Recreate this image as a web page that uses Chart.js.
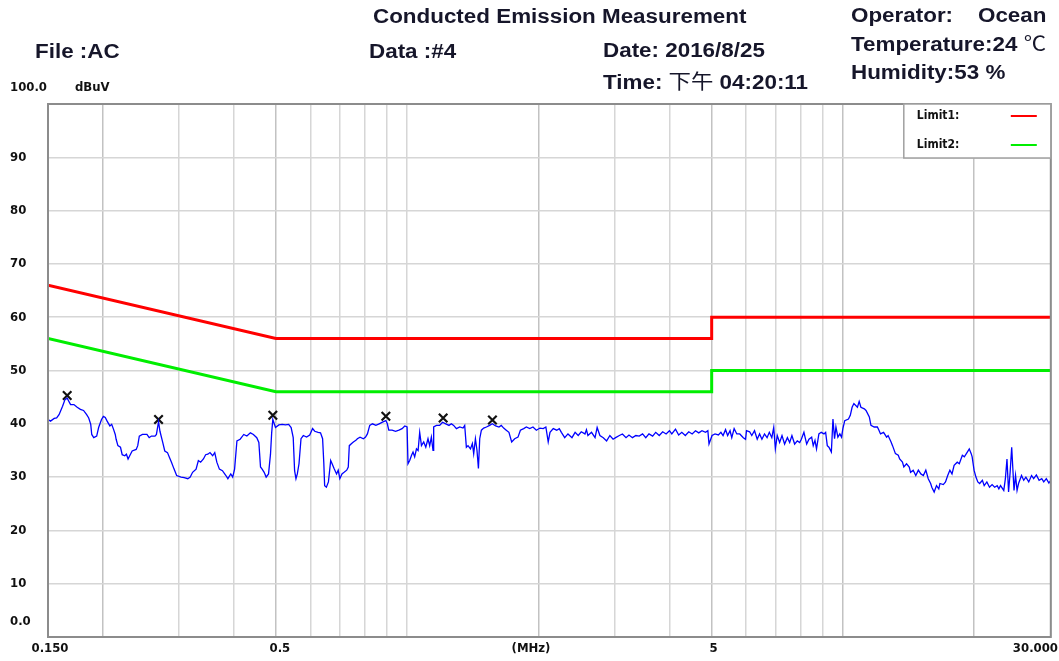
<!DOCTYPE html>
<html>
<head>
<meta charset="utf-8">
<title>Conducted Emission Measurement</title>
<script src="https://cdn.jsdelivr.net/npm/chart.js@4.4.1/dist/chart.umd.min.js"></script>
<style>
  body { margin: 0; background: #fff; }
  #wrap { position: relative; width: 1059px; height: 661px; overflow: hidden; }
  #emiChart { position: absolute; left: 0; top: 0; }
  .hd {
    position: absolute;
    font: bold 20px "Liberation Sans", Arial, sans-serif;
    line-height: 1;
    color: #16162a;
    white-space: pre;
    transform-origin: 0 50%;
    transform: scaleX(1.12);
  }
  .cjk { font-family: "Noto Sans CJK TC", "Noto Sans CJK SC", sans-serif; font-weight: normal; }
</style>
</head>
<body>
<div id="wrap">
  <canvas id="emiChart" width="1059" height="661"></canvas>
  <div class="hd" style="left:373px;top:6px">Conducted Emission Measurement</div>
  <div class="hd" style="left:35px;top:41px">File :AC</div>
  <div class="hd" style="left:369px;top:41px">Data :#4</div>
  <div class="hd" style="left:603px;top:40px">Date: 2016/8/25</div>
  <div class="hd" style="left:603px;top:71px">Time: <span class="cjk">下午</span> 04:20:11</div>
  <div class="hd" style="left:851px;top:5px">Operator:    Ocean</div>
  <div class="hd" style="left:851px;top:33px">Temperature:24 <span class="cjk">℃</span></div>
  <div class="hd" style="left:851px;top:62px">Humidity:53 %</div>
</div>
<script>
// frequency grid (MHz) and level grid (dBuV)
const freqTicks = [0.15, 0.2, 0.3, 0.4, 0.5, 0.6, 0.7, 0.8, 0.9, 1, 2, 3, 4, 5, 6, 7, 8, 9, 10, 20, 30];
const levelTicks = [0, 10, 20, 30, 40, 50, 60, 70, 80, 90, 100];
const freqLabelVals = [0.15, 0.5, 5, 30];
const freqLabelText = ['0.150', '0.5', '5', '30.000'];

// limit lines
const limitFreq = [0.15, 0.5, 5, 5, 30];
const limit1 = [66, 56, 56, 60, 60];
const limit2 = [56, 46, 46, 50, 50];

const traceFreq = [
  0.150, 0.152, 0.155, 0.157, 0.159, 0.162, 0.164, 0.166, 0.169, 0.172, 0.175, 0.178, 0.181, 0.184, 0.186, 0.188,
  0.189, 0.191, 0.194, 0.196, 0.199, 0.201, 0.203, 0.205, 0.208, 0.210, 0.212, 0.214, 0.215, 0.217, 0.220, 0.222,
  0.225, 0.227, 0.229, 0.231, 0.234, 0.239, 0.241, 0.243, 0.247, 0.253, 0.256, 0.259, 0.264, 0.266, 0.269, 0.271,
  0.275, 0.278, 0.282, 0.285, 0.288, 0.292, 0.296, 0.303, 0.308, 0.314, 0.318, 0.322, 0.328, 0.332, 0.336, 0.341,
  0.345, 0.349, 0.353, 0.358, 0.362, 0.366, 0.371, 0.377, 0.384, 0.388, 0.394, 0.398, 0.402, 0.407, 0.414, 0.422,
  0.429, 0.437, 0.444, 0.452, 0.457, 0.461, 0.465, 0.470, 0.475, 0.481, 0.486, 0.489, 0.492, 0.499, 0.508, 0.517,
  0.526, 0.535, 0.542, 0.548, 0.552, 0.556, 0.560, 0.565,
  0.571, 0.578, 0.588, 0.598, 0.607, 0.614, 0.625, 0.633, 0.640, 0.644, 0.647, 0.653, 0.660, 0.668, 0.673, 0.680,
  0.689, 0.695, 0.701, 0.709, 0.717, 0.727, 0.733, 0.737, 0.746, 0.753, 0.763, 0.769, 0.780, 0.794, 0.803, 0.811,
  0.821, 0.833, 0.848, 0.863, 0.878, 0.894, 0.901, 0.908, 0.924, 0.941, 0.958, 0.974, 0.988, 1.000, 1.005, 1.014,
  1.024, 1.032, 1.041, 1.051, 1.060, 1.069, 1.079, 1.092, 1.104, 1.117, 1.127, 1.137, 1.147, 1.151, 1.168, 1.188,
  1.206, 1.227, 1.248, 1.264, 1.279, 1.298, 1.321, 1.344, 1.356, 1.368, 1.380, 1.398, 1.412, 1.422, 1.435, 1.447,
  1.458, 1.468, 1.481, 1.499, 1.521, 1.547, 1.569, 1.597, 1.625, 1.645, 1.666, 1.689, 1.713, 1.738, 1.766, 1.797,
  1.820, 1.852, 1.878, 1.912, 1.945, 1.980, 2.018, 2.053, 2.082, 2.108, 2.128, 2.165, 2.205, 2.235,
  2.26, 2.30, 2.34, 2.39, 2.43, 2.47, 2.51, 2.56, 2.58, 2.60, 2.65, 2.70, 2.73, 2.77, 2.82, 2.87,
  2.92, 2.97, 3.01, 3.07, 3.12, 3.18, 3.23, 3.29, 3.35, 3.41, 3.47, 3.53, 3.59, 3.66, 3.72, 3.79,
  3.86, 3.93, 4.00, 4.05, 4.13, 4.20, 4.27, 4.35, 4.43, 4.51, 4.59, 4.67, 4.75, 4.84, 4.90, 4.93,
  5.01, 5.09, 5.18, 5.25, 5.31, 5.38, 5.44, 5.51, 5.56, 5.63, 5.71, 5.80, 5.91, 5.98, 6.01, 6.11,
  6.18, 6.27, 6.36, 6.44, 6.52, 6.61, 6.70, 6.78, 6.87, 6.94, 7.00, 7.07, 7.16, 7.25, 7.35, 7.46,
  7.55, 7.64, 7.75, 7.86, 7.96, 8.03, 8.14, 8.26, 8.36,
  8.48, 8.55, 8.63, 8.70, 8.81, 8.92, 9.05, 9.13, 9.21, 9.29, 9.41, 9.49, 9.57, 9.64, 9.74, 9.84,
  9.93, 10.0, 10.1, 10.3, 10.4, 10.5, 10.6, 10.8, 10.9, 11.0, 11.2, 11.3, 11.5, 11.6, 11.8, 12.0,
  12.1, 12.2, 12.4, 12.6, 12.7, 12.9, 13.0, 13.2, 13.4, 13.5, 13.7, 13.8, 14.0, 14.2, 14.3, 14.5,
  14.7, 14.9, 15.1, 15.3, 15.5, 15.7, 15.9, 16.0, 16.2, 16.4, 16.6, 16.7, 17.0, 17.2, 17.4, 17.6,
  17.8, 18.0, 18.3, 18.5, 18.8, 19.0, 19.3, 19.5, 19.7, 19.8, 20.0, 20.2, 20.4, 20.6, 20.9, 21.1,
  21.4, 21.7, 22.0, 22.3, 22.6, 22.8, 23.0, 23.4, 23.6, 23.8, 24.0, 24.2, 24.4, 24.7, 24.9, 25.1,
  25.3, 25.7, 26.0, 26.3, 26.7, 27.1, 27.4, 27.8, 28.2, 28.6, 28.9, 29.3, 29.7, 30.0
];
const traceLevel = [
  40.8, 40.5, 41.0, 41.1, 41.7, 43.3, 44.5, 44.8, 43.6, 43.6, 43.1, 42.7, 42.5, 41.7, 41.1, 39.9,
  38.0, 37.4, 37.7, 39.3, 40.8, 41.4, 41.2, 40.5, 39.6, 39.9, 39.0, 38.0, 37.1, 35.9, 35.6, 34.2,
  34.0, 34.3, 33.4, 34.0, 34.9, 35.2, 35.9, 37.7, 38.0, 38.0, 37.4, 37.7, 37.7, 38.0, 40.4, 38.6,
  36.5, 34.9, 34.6, 33.7, 32.8, 31.5, 30.3, 30.0, 29.9, 29.7, 30.0, 30.9, 31.5, 33.1, 32.8, 33.4,
  34.2, 34.3, 34.6, 34.0, 34.6, 32.8, 31.5, 31.2, 30.3, 29.7, 30.6, 30.0, 31.5, 36.8, 37.1, 38.0,
  37.7, 38.3, 38.0, 37.4, 36.5, 31.9, 31.5, 30.9, 30.0, 30.6, 34.3, 38.3, 40.8, 39.3, 39.8, 39.9,
  39.8, 39.9, 39.3, 37.4, 31.2, 29.7, 30.6, 32.5,
  37.2, 37.8, 37.5, 37.9, 39.1, 38.6, 38.4, 38.3, 37.2, 32.8, 28.4, 28.1, 29.1, 33.1, 32.5, 31.6,
  30.6, 31.3, 29.7, 30.6, 30.9, 31.3, 31.9, 35.9, 36.3, 36.6, 36.9, 37.2, 37.5, 37.2, 37.5, 38.1,
  39.7, 40.0, 39.7, 40.0, 40.3, 40.6, 40.0, 38.8, 38.8, 38.6, 38.8, 39.1, 39.6, 39.4, 32.5, 33.1,
  34.1, 34.7, 33.8, 35.3, 35.0, 38.4, 35.9, 36.6, 35.6, 37.2, 35.9, 37.5, 35.0, 39.4, 39.7, 39.7,
  40.3, 40.0, 39.7, 40.0, 39.7, 39.1, 39.4, 39.2, 39.7, 35.6, 35.9, 35.3, 36.3, 34.4, 37.2, 35.0,
  31.6, 37.2, 38.8, 39.2, 39.4, 39.7, 40.0, 39.6, 39.4, 39.7, 39.2, 38.8, 38.4, 36.6, 37.2, 37.5,
  38.8, 39.1, 39.4, 39.1, 39.4, 38.8, 39.2, 39.1, 39.4, 36.6, 38.4, 39.1, 38.8, 39.1,
  38.4, 37.4, 38.1, 37.4, 38.4, 37.8, 38.5, 38.1, 38.9, 37.8, 38.4, 37.4, 39.3, 37.8, 37.4, 36.8,
  37.8, 37.1, 37.4, 37.8, 38.1, 37.4, 37.9, 37.4, 37.8, 37.7, 38.1, 37.4, 38.1, 37.7, 38.4, 37.8,
  38.5, 38.1, 38.7, 38.1, 39.0, 37.9, 38.4, 37.8, 38.5, 38.1, 38.7, 38.3, 38.7, 38.4, 38.7, 36.2,
  37.8, 38.1, 37.9, 38.4, 37.8, 38.9, 37.8, 38.7, 37.4, 39.1, 38.1, 38.1, 37.4, 37.1, 38.7, 38.5,
  37.8, 38.7, 37.1, 38.1, 37.1, 38.1, 37.4, 38.4, 37.4, 39.3, 35.3, 37.8, 36.5, 37.8, 36.2, 37.4,
  36.5, 37.8, 36.2, 36.8, 36.5, 37.1, 38.4, 36.2, 37.1,
  37.5, 35.9, 36.9, 35.3, 38.1, 38.4, 38.1, 38.4, 35.9, 35.6, 34.7, 40.9, 37.2, 39.4, 37.5, 38.1,
  37.5, 39.1, 40.6, 40.9, 41.6, 43.1, 43.8, 43.1, 44.2, 43.1, 42.8, 42.5, 41.3, 39.7, 39.4, 39.4,
  38.8, 38.1, 38.4, 37.5, 37.8, 36.6, 35.9, 34.4, 34.1, 33.4, 32.8, 31.9, 32.5, 31.9, 30.9, 31.3,
  30.3, 31.3, 30.6, 30.3, 31.3, 29.7, 28.8, 28.1, 27.2, 28.4, 27.8, 28.8, 28.6, 29.1, 30.3, 31.3,
  30.6, 32.2, 32.8, 32.5, 34.1, 33.8, 34.7, 35.3, 34.4, 33.8, 31.3, 30.0, 29.1, 28.8, 29.4, 28.4,
  29.1, 28.1, 28.6, 28.1, 28.4, 27.8, 28.4, 27.5, 29.7, 33.4, 27.2, 30.9, 35.6, 27.5, 30.3, 27.5,
  28.8, 30.3, 29.4, 30.0, 29.1, 30.3, 29.7, 30.4, 29.4, 29.7, 29.1, 29.7, 28.9, 29.4
];

// peak markers
const peakFreq = [0.166, 0.269, 0.492, 0.894, 1.21, 1.57];
const peakLevel = [45.3, 40.8, 41.6, 41.4, 41.1, 40.7];

const toPoints = (xs, ys) => xs.map((x, i) => ({ x: x, y: ys[i] }));
const darkGrid = [0.2, 0.5, 2, 5, 10, 20];
const labelFont = 'bold 13px "Liberation Sans Narrow", "DejaVu Sans Condensed", sans-serif';

// draws the frame, axis texts and the limit legend box
const reportPlugin = {
  id: 'reportPlugin',
  afterDraw(chart) {
    const c = chart.ctx;
    const a = chart.chartArea;
    const xs = chart.scales.x;
    const ys = chart.scales.y;
    c.save();

    c.strokeStyle = '#8c8c8c';
    c.lineWidth = 2;
    c.strokeRect(a.left, a.top, a.right - a.left, a.bottom - a.top);

    c.fillStyle = '#111';
    c.font = labelFont;
    c.textBaseline = 'middle';
    c.textAlign = 'left';
    levelTicks.forEach(v => {
      const y = ys.getPixelForValue(v);
      if (v === 100) {
        c.fillText('100.0', 10, y - 16);
        c.fillText('dBuV', 75, y - 16);
      } else if (v === 0) {
        c.fillText('0.0', 10, y - 15);
      } else {
        c.fillText(String(v), 10, y);
      }
    });

    const ly = a.bottom + 12;
    freqLabelVals.forEach((v, i) => {
      const x = xs.getPixelForValue(v);
      if (i === freqLabelVals.length - 1) {
        c.textAlign = 'right';
        c.fillText(freqLabelText[i], chart.width - 1, ly);
      } else {
        c.textAlign = 'center';
        c.fillText(freqLabelText[i], x + (i === 1 ? 4 : 2), ly);
      }
    });
    c.textAlign = 'center';
    c.fillText('(MHz)', a.left + 483, ly);

    // legend box
    const bx = a.right - 147, by = a.top, bw = 147, bh = 54;
    c.fillStyle = '#fff';
    c.fillRect(bx, by, bw, bh);
    c.strokeStyle = '#a0a0a0';
    c.lineWidth = 1.5;
    c.strokeRect(bx, by, bw, bh);
    c.font = 'bold 12px "Liberation Sans Narrow", "DejaVu Sans Condensed", sans-serif';
    c.textAlign = 'left';
    chart.data.datasets.slice(0, 2).forEach((ds, i) => {
      const yy = by + 12 + i * 29;
      c.fillStyle = '#111';
      c.fillText(ds.label, bx + 13, yy);
      c.strokeStyle = ds.borderColor;
      c.lineWidth = 2;
      c.beginPath();
      c.moveTo(bx + 107, yy);
      c.lineTo(bx + 133, yy);
      c.stroke();
    });
    c.restore();
  }
};

const ctx = document.getElementById('emiChart').getContext('2d');

new Chart(ctx, {
  type: 'line',
  data: {
    datasets: [
      {
        label: 'Limit1:',
        data: toPoints(limitFreq, limit1),
        borderColor: '#ff0000',
        borderWidth: 3,
        pointRadius: 0
      },
      {
        label: 'Limit2:',
        data: toPoints(limitFreq, limit2),
        borderColor: '#00ee00',
        borderWidth: 3,
        pointRadius: 0
      },
      {
        label: 'Trace',
        data: toPoints(traceFreq, traceLevel),
        borderColor: '#0000ff',
        borderWidth: 1.3,
        pointRadius: 0
      },
      {
        label: 'Peaks',
        data: toPoints(peakFreq, peakLevel),
        showLine: false,
        pointStyle: 'crossRot',
        pointRadius: 6,
        pointBorderWidth: 2.2,
        pointBorderColor: '#111',
        borderColor: '#111'
      }
    ]
  },
  options: {
    responsive: false,
    animation: false,
    devicePixelRatio: 1,
    layout: { padding: { left: 48, top: 104, right: 7, bottom: 24 } },
    plugins: {
      legend: { display: false },
      tooltip: { enabled: false }
    },
    scales: {
      x: {
        type: 'logarithmic',
        min: 0.15,
        max: 30,
        afterBuildTicks: s => { s.ticks = freqTicks.map(v => ({ value: v })); },
        afterFit: s => { s.height = 0; },
        ticks: { display: false },
        border: { display: false },
        grid: {
          drawTicks: false,
          lineWidth: 1.5,
          color: c => darkGrid.includes(c.tick && c.tick.value) ? '#c2c2c2' : '#d6d6d6'
        }
      },
      y: {
        type: 'linear',
        min: 0,
        max: 100,
        afterBuildTicks: s => { s.ticks = levelTicks.map(v => ({ value: v })); },
        afterFit: s => { s.width = 0; },
        ticks: { display: false },
        border: { display: false },
        grid: { drawTicks: false, lineWidth: 1.5, color: '#d6d6d6' }
      }
    }
  },
  plugins: [reportPlugin]
});
</script>
</body>
</html>
